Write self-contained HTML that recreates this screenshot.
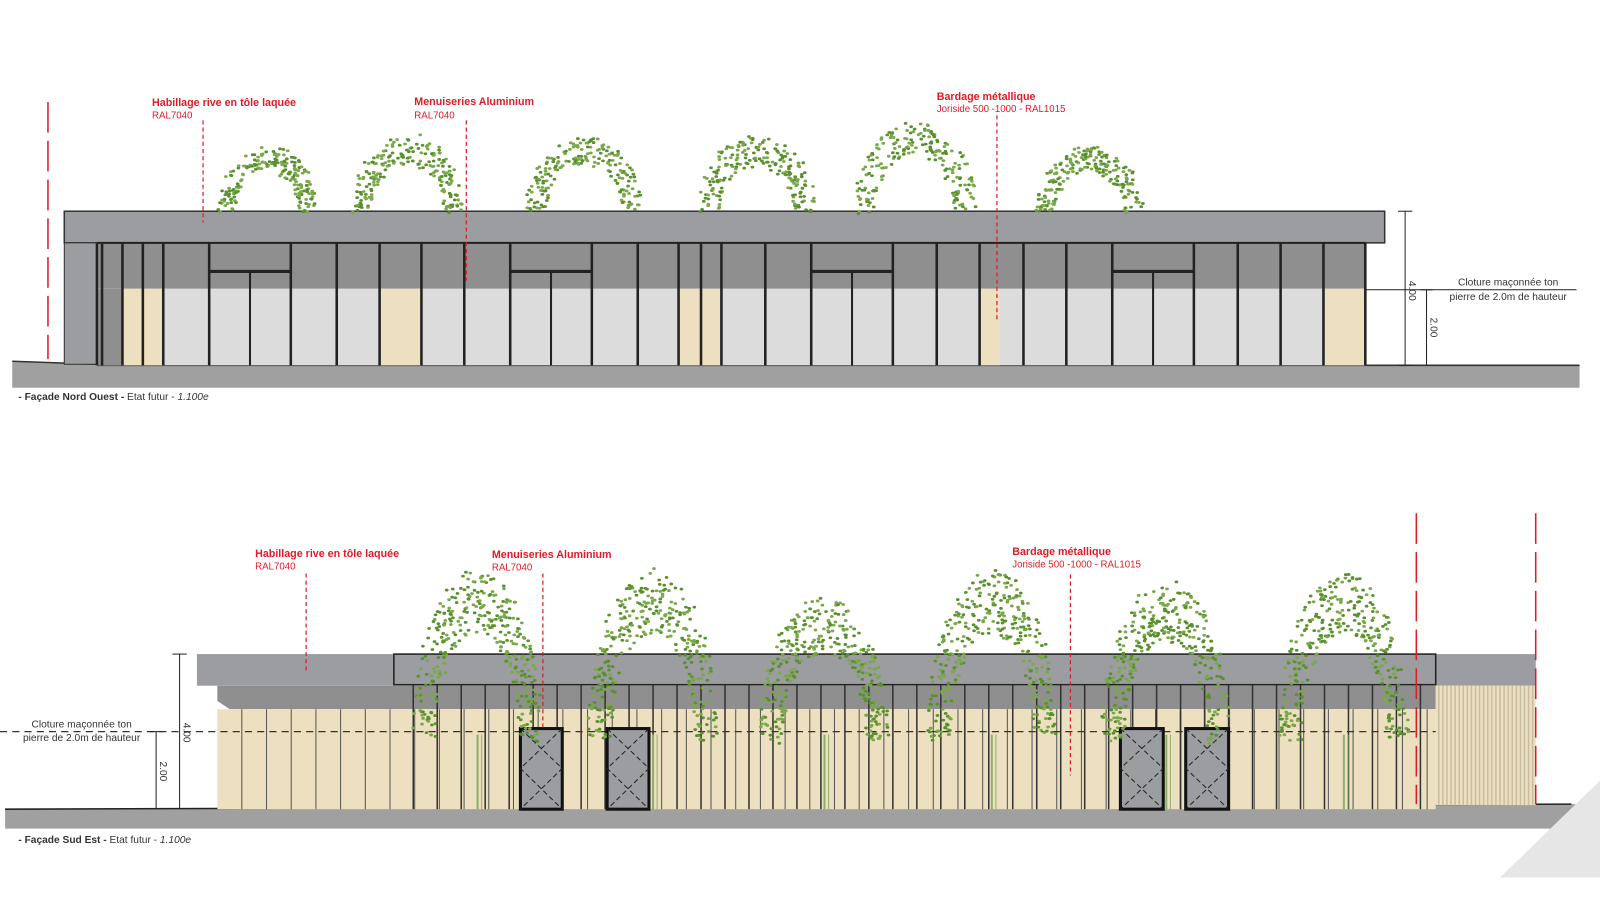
<!DOCTYPE html>
<html><head><meta charset="utf-8"><style>
html,body{margin:0;padding:0;background:#fff;width:1600px;height:900px;overflow:hidden}
svg{display:block}
text{font-family:"Liberation Sans",sans-serif}
.r{fill:#e01b24;font-weight:bold;font-size:10.5px}
.rs{fill:#e01b24;font-size:9.5px}
.k{fill:#333;font-size:10px}
</style></head><body>
<svg id="s" width="1600" height="900" viewBox="0 0 1568 882" preserveAspectRatio="none" xmlns="http://www.w3.org/2000/svg">
<!-- TOP FACADE -->
<g id="top">
<polygon points="12,354 95,357 1548,358 1548,380 12,380" fill="#a0a0a0"/>
<line x1="12" y1="354" x2="95" y2="357" stroke="#333" stroke-width="1.5"/>
<line x1="95" y1="358" x2="1548" y2="358" stroke="#333" stroke-width="1.5"/>
<rect x="63" y="207" width="1294" height="31" fill="#9b9da1" stroke="#333" stroke-width="1.5"/>
<rect x="63" y="238" width="32" height="119" fill="#9b9da1" stroke="#333" stroke-width="1"/>
<rect x="95" y="238" width="1243" height="45" fill="#8f8f8f"/>
<rect x="95" y="283" width="1243" height="75" fill="#dcdcdc"/>
<rect x="95" y="283" width="25" height="75" fill="#8f8f8f"/>
<g fill="#ece0c0">
<rect x="120" y="283" width="40" height="75"/><rect x="372" y="283" width="41" height="75"/>
<rect x="665" y="283" width="42" height="75"/><rect x="960" y="283" width="20" height="75"/>
<rect x="1297" y="283" width="41" height="75"/></g>
<line x1="95" y1="238" x2="1338" y2="238" stroke="#222" stroke-width="2"/>
<g stroke="#222" stroke-width="2.5" id="mull"></g>
<g id="doors"></g>
</g>
<text x="18" y="392" class="k"><tspan font-weight="bold">- Façade Nord Ouest -</tspan> Etat futur - <tspan font-style="italic">1.100e</tspan></text>
<g stroke="#222" stroke-width="1">
<line x1="1377" y1="207" x2="1377" y2="358"/><line x1="1370" y1="207" x2="1384" y2="207"/><line x1="1370" y1="358" x2="1384" y2="358"/>
<line x1="1398" y1="284" x2="1398" y2="358"/><line x1="1392" y1="284" x2="1404" y2="284"/>
<line x1="1338" y1="284" x2="1545" y2="284"/></g>
<text transform="translate(1381,285) rotate(90)" class="k" font-size="9" text-anchor="middle">4.00</text>
<text transform="translate(1402,321) rotate(90)" class="k" font-size="9" text-anchor="middle">2.00</text>
<text x="1478" y="280" class="k" text-anchor="middle">Cloture maçonnée ton</text>
<text x="1478" y="294" class="k" text-anchor="middle">pierre de 2.0m de hauteur</text>
<text x="149" y="104" class="r">Habillage rive en tôle laquée</text><text x="149" y="116" class="rs">RAL7040</text>
<text x="406" y="103" class="r">Menuiseries Aluminium</text><text x="406" y="116" class="rs">RAL7040</text>
<text x="918" y="98" class="r">Bardage métallique</text><text x="918" y="110" class="rs">Joriside 500 -1000 - RAL1015</text>
<g stroke="#e01b24" stroke-width="1.2" stroke-dasharray="4,3">
<line x1="199" y1="118" x2="199" y2="218"/><line x1="457" y1="118" x2="457" y2="275"/><line x1="977" y1="113" x2="977" y2="315"/></g>
<line x1="47" y1="100" x2="47" y2="352" stroke="#e01b24" stroke-width="1.5" stroke-dasharray="30,8"/>

<!-- BOTTOM FACADE -->
<polygon points="5,793 1540,788 1568,788 1540,812 5,812" fill="#a0a0a0"/>
<line x1="5" y1="793" x2="1540" y2="788" stroke="#222" stroke-width="1.5"/>
<polygon points="1470,860 1568,765 1568,860" fill="#e6e6e6"/>
<rect x="193" y="641" width="1312" height="31" fill="#9b9da1"/>
<polygon points="213,672 1407,672 1407,695 225,695 213,687" fill="#8f8f8f"/>
<rect x="213" y="695" width="1194" height="98" fill="#ece0c0"/>
<rect x="1407" y="672" width="98" height="117" fill="#ece0c0"/>
<g id="bl" stroke="#555" stroke-width="1"></g>
<g id="bl2" stroke="#333" stroke-width="1.5"></g>
<rect x="386" y="641" width="1021" height="30" fill="none" stroke="#222" stroke-width="1.5"/>
<line x1="0" y1="717" x2="1407" y2="717" stroke="#333" stroke-width="1.3" stroke-dasharray="7,5"/>
<g id="bdoors"></g>
<g id="trees"></g>
<g stroke="#222" stroke-width="1">
<line x1="176" y1="641" x2="176" y2="793"/><line x1="169" y1="641" x2="183" y2="641"/>
<line x1="153" y1="717" x2="153" y2="793"/><line x1="147" y1="717" x2="159" y2="717"/></g>
<text transform="translate(180,718) rotate(90)" class="k" font-size="9" text-anchor="middle">4.00</text>
<text transform="translate(157,756) rotate(90)" class="k" font-size="9" text-anchor="middle">2.00</text>
<text x="80" y="713" class="k" text-anchor="middle">Cloture maçonnée ton</text>
<text x="80" y="726" class="k" text-anchor="middle">pierre de 2.0m de hauteur</text>
<text x="18" y="826" class="k"><tspan font-weight="bold">- Façade Sud Est -</tspan> Etat futur - <tspan font-style="italic">1.100e</tspan></text>
<text x="250" y="546" class="r">Habillage rive en tôle laquée</text><text x="250" y="558" class="rs">RAL7040</text>
<text x="482" y="547" class="r">Menuiseries Aluminium</text><text x="482" y="559" class="rs">RAL7040</text>
<text x="992" y="544" class="r">Bardage métallique</text><text x="992" y="556" class="rs">Joriside 500 -1000 - RAL1015</text>
<g stroke="#e01b24" stroke-width="1.2" stroke-dasharray="4,3">
<line x1="300" y1="562" x2="300" y2="660"/><line x1="532" y1="562" x2="532" y2="716"/><line x1="1049" y1="563" x2="1049" y2="760"/></g>
<g stroke="#e01b24" stroke-width="1.5" stroke-dasharray="30,8">
<line x1="1388" y1="503" x2="1388" y2="788"/><line x1="1505" y1="503" x2="1505" y2="788"/></g>
</svg>
<script>
var NS="http://www.w3.org/2000/svg";
function el(p,t,a){var e=document.createElementNS(NS,t);for(var k in a)e.setAttribute(k,a[k]);document.getElementById(p).appendChild(e);return e;}
var xs=[95,100,120,140,160,205,285,330,372,413,455,500,580,625,665,687,707,750,795,875,918,960,1003,1045,1090,1170,1213,1255,1297,1338];
xs.forEach(function(x){el("mull","line",{x1:x,y1:238,x2:x,y2:358});});
[205,500,795,1090].forEach(function(x){
 el("doors","line",{x1:x,y1:266,x2:x+80,y2:266,stroke:"#222","stroke-width":3});
 el("doors","line",{x1:x+40,y1:266,x2:x+40,y2:358,stroke:"#222","stroke-width":2});
});
for(var x=237;x<1407;x+=24.2) el("bl","line",{x1:x,y1:695,x2:x,y2:793});
for(var x=1410;x<1505;x+=4) el("bl","line",{x1:x,y1:672,x2:x,y2:789,stroke:"#c8bda0","stroke-width":1.5});
for(var x=405;x<1407;x+=23.5) el("bl2","line",{x1:x,y1:671,x2:x,y2:793});
[[510,41],[595,41],[1098,42],[1162,42]].forEach(function(d){
 var x=d[0],w=d[1];
 el("bdoors","rect",{x:x,y:714,width:w,height:79,fill:"#9b9da1",stroke:"#111","stroke-width":3});
 el("bdoors","polyline",{points:(x+w)+",714 "+x+",753 "+(x+w)+",793",fill:"none",stroke:"#222","stroke-dasharray":"5,3"});
 el("bdoors","polyline",{points:x+",714 "+(x+w)+",753 "+x+",793",fill:"none",stroke:"#222","stroke-dasharray":"5,3"});
});
var seed=7;function rnd(){seed=(seed*16807)%2147483647;return seed/2147483647;}
function arch(g,cx,top,bot,w,n){
 for(var i=0;i<n;i++){var t=rnd()*Math.PI;var r=0.7+rnd()*0.4;
  var x=cx-Math.cos(t)*w*r, y=bot-Math.sin(t)*(bot-top)*r+(rnd()-0.5)*8;
  el(g,"ellipse",{cx:x,cy:y,rx:1.8,ry:1.4,fill:rnd()<0.5?"#5a8f2e":"#7aa84a"});}
}
[[262,150,207,45],[400,140,207,50],[572,140,207,52],[742,140,207,52],[897,128,207,55],[1068,150,207,48]].forEach(function(a){arch("top",a[0],a[1],a[2],a[3],200);});
[468,640,808,972,1143,1317].forEach(function(cx,i){
 var top=[575,575,598,575,585,575][i];
 el("trees","line",{x1:cx,y1:720,x2:cx,y2:793,stroke:"#8fb06a","stroke-width":2});
 el("trees","line",{x1:cx+4,y1:720,x2:cx+4,y2:793,stroke:"#8fb06a","stroke-width":1});
 arch("trees",cx,top,725,58,340);
});
</script>
</body></html>
